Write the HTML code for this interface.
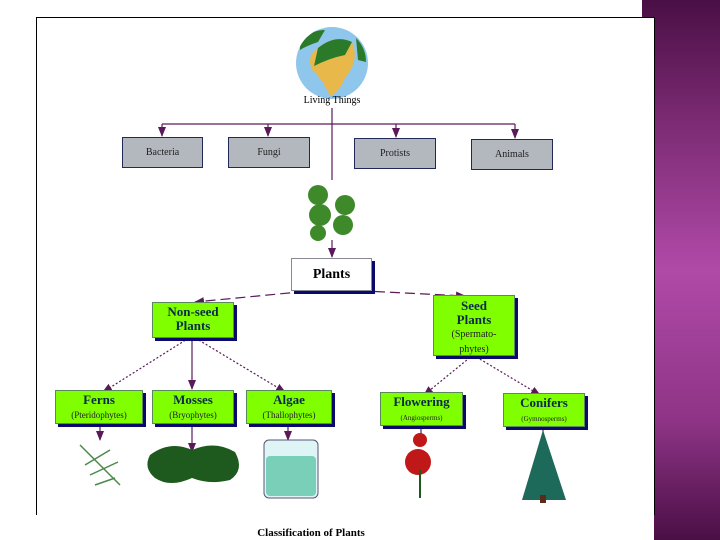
<!DOCTYPE html>
<html><head><style>
body{margin:0;width:720px;height:540px;overflow:hidden;background:#fff;position:relative;font-family:"Liberation Serif",serif}
.a{position:absolute}
.purple{left:642px;top:0;width:78px;height:540px;background:linear-gradient(#4a0f45 0%,#7a2a72 22%,#b04aa8 50%,#8e3486 78%,#4a0f45 100%)}
.gbox{position:absolute;background:#b3b8bf;border:1px solid #22285a;font-size:10px;text-align:center;color:#222}
.green{position:absolute;background:#80ff00;border:1px solid #5a8a5a;box-shadow:3px 3px 0 #0a0a6a;text-align:center;color:#0b2a4a;font-weight:bold;line-height:1.05}
.sub{font-weight:normal;font-size:9px;color:#222}
</style></head><body>
<div class="a purple"></div>
<div class="a" style="left:642px;top:514px;width:12px;height:26px;background:#fff"></div>
<div class="a" style="left:36px;top:17px;width:617px;height:497px;background:#fff;border-left:1px solid #000;border-top:1px solid #000;border-right:1px solid #000"></div>
<svg class="a" style="left:0;top:0" width="720" height="540">
<defs>
<marker id="ar" markerWidth="10" markerHeight="8" refX="9" refY="4" orient="auto" markerUnits="userSpaceOnUse"><path d="M0,0 L10,4 L0,8z" fill="#5a1a5a"/></marker>
<clipPath id="gc"><circle cx="332" cy="63" r="36"/></clipPath></defs>
<circle cx="332" cy="63" r="36" fill="#8ec6ec"/>
<g clip-path="url(#gc)">
<path d="M318,48 Q335,34 352,42 Q360,60 345,78 Q338,94 330,96 Q322,78 312,70 Q306,55 318,48z" fill="#e8b84a"/>
<path d="M318,48 Q335,34 352,42 L345,55 Q330,58 314,66z" fill="#2a7a2a"/>
<path d="M300,40 Q312,30 325,30 L318,42 Q306,46 300,50z" fill="#2a7a2a"/>
<path d="M356,38 Q366,48 366,62 L358,60z" fill="#2a7a2a"/>
</g>
<g stroke="#5a1a5a" stroke-width="1.2" fill="none">
<line x1="332" y1="108" x2="332" y2="180"/>
<line x1="162" y1="124" x2="515" y2="124"/>
<line x1="162" y1="124" x2="162" y2="136" marker-end="url(#ar)"/>
<line x1="268" y1="124" x2="268" y2="136" marker-end="url(#ar)"/>
<line x1="396" y1="124" x2="396" y2="137" marker-end="url(#ar)"/>
<line x1="515" y1="124" x2="515" y2="138" marker-end="url(#ar)"/>
<line x1="332" y1="240" x2="332" y2="257" marker-end="url(#ar)"/>
<path d="M320,290 L195,302" stroke-dasharray="10,5" marker-end="url(#ar)"/>
<path d="M345,290 L465,296" stroke-dasharray="10,5" marker-end="url(#ar)"/>
<line x1="192" y1="336" x2="192" y2="389" marker-end="url(#ar)"/>
<path d="M192,336 L103,392" stroke-dasharray="2,2" marker-end="url(#ar)"/>
<path d="M192,336 L285,392" stroke-dasharray="2,2" marker-end="url(#ar)"/>
<path d="M473,355 L424,395" stroke-dasharray="2,2" marker-end="url(#ar)"/>
<path d="M473,355 L540,395" stroke-dasharray="2,2" marker-end="url(#ar)"/>
<line x1="100" y1="422" x2="100" y2="440" marker-end="url(#ar)"/>
<line x1="192" y1="422" x2="192" y2="452" marker-end="url(#ar)"/>
<line x1="288" y1="422" x2="288" y2="440" marker-end="url(#ar)"/>
<line x1="421" y1="424" x2="421" y2="436"/>
<line x1="543" y1="425" x2="543" y2="436"/>
</g>
<g fill="#3e8a2a"><circle cx="318" cy="195" r="10"/><circle cx="345" cy="205" r="10"/><circle cx="320" cy="215" r="11"/><circle cx="343" cy="225" r="10"/><circle cx="318" cy="233" r="8"/></g>
<g stroke="#4a8a4a" stroke-width="1.5"><line x1="80" y1="445" x2="120" y2="485"/><line x1="85" y1="465" x2="110" y2="450"/><line x1="90" y1="475" x2="118" y2="462"/><line x1="95" y1="485" x2="115" y2="478"/></g>
<path d="M150,455 Q170,440 192,450 Q215,440 235,452 Q245,470 230,480 Q210,485 192,478 Q170,488 155,478 Q143,468 150,455z" fill="#1e5a1e"/>
<rect x="264" y="440" width="54" height="58" rx="5" fill="#dff4f4" stroke="#557" stroke-width="1"/>
<rect x="266" y="456" width="50" height="40" rx="4" fill="#7acfb8"/>
<circle cx="420" cy="440" r="7" fill="#c01818"/><circle cx="418" cy="462" r="13" fill="#c01818"/>
<line x1="420" y1="470" x2="420" y2="498" stroke="#1a5a1a" stroke-width="2"/>
<path d="M543,430 L522,500 L566,500z" fill="#1e6a5a"/>
<rect x="540" y="495" width="6" height="8" fill="#5a2a1a"/>
</svg>
<div class="a" style="left:282px;top:95px;width:100px;text-align:center;font-size:10px">Living Things</div>
<div class="gbox" style="left:122px;top:137px;width:79px;height:29px;line-height:29px">Bacteria</div>
<div class="gbox" style="left:228px;top:137px;width:80px;height:29px;line-height:29px">Fungi</div>
<div class="gbox" style="left:354px;top:138px;width:80px;height:29px;line-height:29px">Protists</div>
<div class="gbox" style="left:471px;top:139px;width:80px;height:29px;line-height:29px">Animals</div>
<div class="a" style="left:291px;top:258px;width:79px;height:31px;background:#fff;border:1px solid #889;box-shadow:3px 3px 0 #0a0a6a;text-align:center;line-height:31px;font-weight:bold;font-size:14px">Plants</div>
<div class="green" style="left:152px;top:302px;width:80px;height:32px;font-size:13px;padding-top:2px">Non-seed<br>Plants</div>
<div class="green" style="left:433px;top:295px;width:80px;height:56px;font-size:13px;padding-top:3px">Seed<br>Plants<br><span class="sub" style="font-size:10px">(Spermato-<br>phytes)</span></div>
<div class="green" style="left:55px;top:390px;width:86px;height:30px;font-size:13px;padding-top:2px">Ferns<br><span class="sub">(Pteridophytes)</span></div>
<div class="green" style="left:152px;top:390px;width:80px;height:30px;font-size:13px;padding-top:2px">Mosses<br><span class="sub">(Bryophytes)</span></div>
<div class="green" style="left:246px;top:390px;width:84px;height:30px;font-size:13px;padding-top:2px">Algae<br><span class="sub">(Thallophytes)</span></div>
<div class="green" style="left:380px;top:392px;width:81px;height:30px;font-size:13px;padding-top:2px">Flowering<br><span class="sub" style="font-size:7px">(Angiosperms)</span></div>
<div class="green" style="left:503px;top:393px;width:80px;height:30px;font-size:13px;padding-top:2px">Conifers<br><span class="sub" style="font-size:7px">(Gymnosperms)</span></div>
<div class="a" style="left:211px;top:527px;width:200px;text-align:center;font-weight:bold;font-size:11px">Classification of Plants</div>
</body></html>
